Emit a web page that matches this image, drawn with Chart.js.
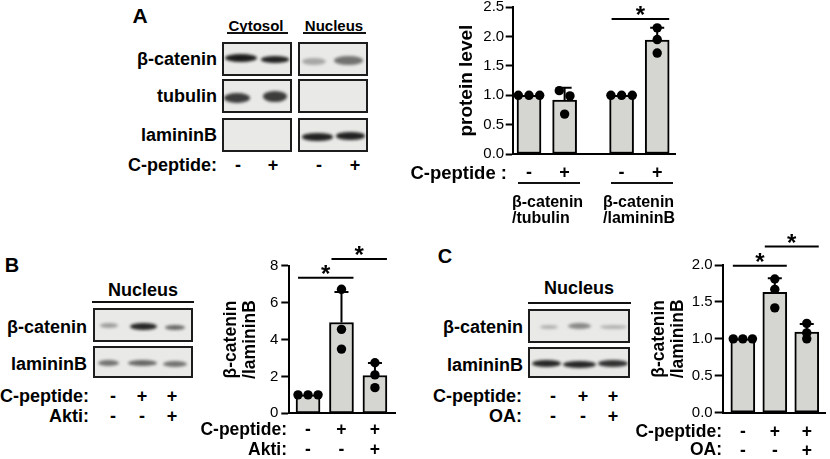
<!DOCTYPE html>
<html>
<head>
<meta charset="utf-8">
<script src="https://cdn.jsdelivr.net/npm/chart.js@4.4.1/dist/chart.umd.min.js"></script>
<style>
  html, body { margin: 0; padding: 0; background: #fff; }
  body { width: 830px; height: 459px; position: relative; overflow: hidden;
         font-family: 'Liberation Sans', Arial, sans-serif; color: #000; }
  .t { position: absolute; font-weight: bold; white-space: nowrap; line-height: 1; }
  .box { position: absolute; border: 2px solid #1c1c1c; background: #e9e9e7; box-sizing: border-box; }
  .band { position: absolute; border-radius: 50%; filter: blur(1.8px); background: #111; }
  .ul { position: absolute; height: 2px; background: #111; }
  canvas { position: absolute; }
</style>
</head>
<body>
<canvas id="chartA"></canvas>
<canvas id="chartB"></canvas>
<canvas id="chartC"></canvas>
<script>
// ---- panel A : protein level ----
const treatA = ['-', '+', '-', '+'];
const groupsA = [['β-catenin', '/tubulin'], ['β-catenin', '/lamininB']];
const meanA = [1.0, 0.92, 1.0, 1.94];
const sdA = [0, 0.21, 0, 0.21];
const dotsA = [[1.0, 1.0, 1.0], [1.08, 0.99, 0.68], [1.0, 1.0, 1.0], [2.15, 1.95, 1.72]];
const sigA = [[2, 3, 2.3]];
const yTicksA = [0, 0.5, 1.0, 1.5, 2.0, 2.5];

// ---- panel B : Akti ----
const treatB = [['-', '-'], ['+', '-'], ['+', '+']];
const meanB = [1.0, 4.92, 2.05];
const sdB = [0, 1.65, 0.68];
const dotsB = [[1.0, 1.0, 1.0], [6.72, 4.55, 3.48], [2.74, 2.08, 1.39]];
const sigB = [[0, 1, 7.35], [1, 2, 8.36]];
const yTicksB = [0, 2, 4, 6, 8];

// ---- panel C : OA ----
const treatC = [['-', '-'], ['+', '-'], ['+', '+']];
const meanC = [1.0, 1.63, 1.09];
const sdC = [0, 0.19, 0.11];
const dotsC = [[1.0, 1.0, 1.0], [1.81, 1.67, 1.42], [1.21, 1.08, 1.0]];
const sigC = [[0, 1, 1.99], [1, 2, 2.25]];
const yTicksC = [0, 0.5, 1.0, 1.5, 2.0];

// blot lane labels
const rowsA = ['β-catenin', 'tubulin', 'lamininB'];
const rowsBC = ['β-catenin', 'lamininB'];
const lanesA = ['-', '+', '-', '+'];
const ratioTitle = ['β-catenin', '/lamininB'];

Chart.defaults.font.family = "'Liberation Sans', Arial, sans-serif";
Chart.defaults.color = '#000';

// ---------- html helpers (blots and labels) ----------
function txt(s, x, y, size, align) {
  const d = document.createElement('div');
  d.className = 't';
  d.textContent = s;
  d.style.fontSize = size + 'px';
  d.style.left = x + 'px';
  d.style.top = y + 'px';
  const tx = align === 'r' ? '-100%' : align === 'c' ? '-50%' : '0';
  d.style.transform = 'translate(' + tx + ', -50%)';
  document.body.appendChild(d);
}
function rule(x1, x2, y) {
  const d = document.createElement('div');
  d.className = 'ul';
  d.style.left = x1 + 'px'; d.style.width = (x2 - x1) + 'px'; d.style.top = (y - 1) + 'px';
  document.body.appendChild(d);
}
function box(x1, y1, x2, y2) {
  const d = document.createElement('div');
  d.className = 'box';
  d.style.left = x1 + 'px'; d.style.top = y1 + 'px';
  d.style.width = (x2 - x1) + 'px'; d.style.height = (y2 - y1) + 'px';
  document.body.appendChild(d);
}
function band(x1, x2, yc, h, alpha) {
  const d = document.createElement('div');
  d.className = 'band';
  d.style.left = x1 + 'px'; d.style.width = (x2 - x1) + 'px';
  d.style.top = (yc - h / 2) + 'px'; d.style.height = h + 'px';
  d.style.opacity = alpha;
  document.body.appendChild(d);
}

// panel A blots
txt('A', 140, 15, 21, 'c');
txt('Cytosol', 256, 24.5, 15, 'c'); rule(227, 288, 33);
txt('Nucleus', 334, 24.5, 15, 'c'); rule(303, 366, 33);
[[42, 76], [79, 113], [118, 152]].forEach(([a, b], i) => {
  box(222, a, 292, b); box(298, a, 368, b);
  txt(rowsA[i], 217, (a + b) / 2, 18, 'r');
});
txt('C-peptide:', 217, 165, 18, 'r');
[238, 273, 319, 355].forEach((x, i) => txt(lanesA[i], x, 165, 18, 'c'));
band(225, 257, 58, 8, 0.95); band(261, 289, 59.5, 6.5, 0.92);
band(224, 250, 98, 10, 0.8); band(263, 287, 96.5, 11, 0.8);
band(302, 326, 61, 7, 0.3); band(334, 363, 60, 9, 0.55);
band(302, 333, 137, 7.5, 0.92); band(336, 365, 136, 7.5, 0.92);

// panel A chart side labels
txt('C-peptide :', 507, 173, 18.5, 'r');
rule(518, 580, 183); rule(611, 673, 183);
txt(groupsA[0][0], 512, 202, 16, 'l'); txt(groupsA[0][1], 512, 218, 16, 'l');
txt(groupsA[1][0], 603, 202, 16, 'l'); txt(groupsA[1][1], 603, 218, 16, 'l');

// panel B blots
txt('B', 12, 265, 20, 'c');
txt('Nucleus', 143, 290, 18, 'c'); rule(92, 194, 302);
box(93, 308, 193, 342); box(93, 346, 193, 378);
txt(rowsBC[0], 87, 327, 18, 'r'); txt(rowsBC[1], 87, 364, 18, 'r');
txt('C-peptide:', 89, 396, 18, 'r'); txt('Akti:', 89, 416, 18, 'r');
[113, 142, 172].forEach((x, i) => { txt(treatB[i][0], x, 396, 18, 'c'); txt(treatB[i][1], x, 416, 18, 'c'); });
band(100, 118, 325, 5, 0.35); band(130, 157, 326.5, 7, 0.9); band(165, 185, 327.5, 5, 0.6);
band(98, 119, 363, 6, 0.55); band(128, 157, 363, 6, 0.6); band(163, 187, 363.5, 6, 0.55);
txt('C-peptide:', 287, 430, 17.5, 'r'); txt('Akti:', 287, 450, 17.5, 'r');

// panel C blots
txt('C', 445, 256, 20, 'c');
txt('Nucleus', 579, 288, 18, 'c'); rule(528, 631, 303);
box(528, 309, 630, 343); box(528, 347, 630, 378);
txt(rowsBC[0], 523, 327, 18, 'r'); txt(rowsBC[1], 523, 365, 18, 'r');
txt('C-peptide:', 522, 396, 18, 'r'); txt('OA:', 522, 416, 18, 'r');
[553, 583, 613].forEach((x, i) => { txt(treatC[i][0], x, 396, 18, 'c'); txt(treatC[i][1], x, 416, 18, 'c'); });
band(540, 558, 327, 4, 0.25); band(568, 591, 326, 6, 0.45); band(600, 627, 327, 4, 0.25);
band(532, 561, 363.5, 7, 0.9); band(563, 596, 364, 7, 0.9); band(598, 628, 363, 7, 0.85);
txt('C-peptide:', 722, 432, 17.5, 'r'); txt('OA:', 722, 450, 17.5, 'r');

// ---------- chart plugins ----------
const errorBars = {
  id: 'errorBars',
  afterDatasetDraw(chart, args, opts) {
    if (args.meta.type !== 'bar') return;
    const ctx = chart.ctx, y = chart.scales.y;
    const vals = chart.data.datasets[args.index].data;
    ctx.save();
    ctx.strokeStyle = '#000';
    ctx.lineWidth = 2;
    args.meta.data.forEach((bar, i) => {
      if (!opts.sd[i]) return;
      const top = y.getPixelForValue(vals[i].y + opts.sd[i]);
      ctx.beginPath();
      ctx.moveTo(bar.x, bar.y);
      ctx.lineTo(bar.x, top);
      ctx.moveTo(bar.x - 7, top);
      ctx.lineTo(bar.x + 7, top);
      ctx.stroke();
    });
    ctx.restore();
  }
};

const sigMarks = {
  id: 'sigMarks',
  afterDraw(chart, args, opts) {
    const ctx = chart.ctx, y = chart.scales.y;
    const bars = chart.getDatasetMeta(1).data;
    ctx.save();
    ctx.strokeStyle = '#000';
    ctx.fillStyle = '#000';
    ctx.lineWidth = 2;
    ctx.font = "bold 24px 'Liberation Sans', Arial";
    ctx.textAlign = 'center';
    opts.pairs.forEach(([a, b, v]) => {
      const x1 = bars[a].x - 10, x2 = bars[b].x + 12;
      const py = y.getPixelForValue(v);
      ctx.beginPath();
      ctx.moveTo(x1, py);
      ctx.lineTo(x2, py);
      ctx.stroke();
      ctx.fillText('*', (x1 + x2) / 2, py + 4);
    });
    ctx.restore();
  }
};

// spread dots that would overlap, like a scatter of replicates
function spread(vals, tol) {
  const idx = vals.map((v, i) => i).sort((a, b) => vals[b] - vals[a]);
  const off = vals.map(() => 0);
  let cl = [idx[0]];
  const flush = () => cl.forEach((j, k) => { off[j] = (k - (cl.length - 1) / 2) * 0.3; });
  for (let n = 1; n < idx.length; n++) {
    if (vals[cl[cl.length - 1]] - vals[idx[n]] < tol) cl.push(idx[n]);
    else { flush(); cl = [idx[n]]; }
  }
  flush();
  return off;
}

function place(id, L, T, W, H) {
  const c = document.getElementById(id);
  c.width = W; c.height = H;
  c.style.left = L + 'px'; c.style.top = T + 'px';
  return c;
}

function barChart(canvas, o) {
  const xs = o.xs;
  const bars = o.means.map((v, i) => ({ x: xs[i], y: v }));
  const dots = [];
  o.dots.forEach((vals, i) => {
    spread(vals, o.tol).forEach((dx, k) => dots.push({ x: xs[i] + dx, y: vals[k] }));
  });
  return new Chart(canvas, {
    type: 'bar',
    data: {
      datasets: [
        { type: 'scatter', data: dots, pointRadius: 4.7, backgroundColor: '#000', borderWidth: 0, order: 0 },
        { data: bars, backgroundColor: '#d5d5d1', borderColor: '#000', borderWidth: 2,
          borderSkipped: false, barThickness: 24, order: 1 }
      ]
    },
    options: {
      responsive: false,
      animation: false,
      layout: { padding: { top: o.pt, right: o.pr, left: 0, bottom: 0 } },
      plugins: {
        legend: { display: false },
        tooltip: { enabled: false },
        errorBars: { sd: o.sd },
        sigMarks: { pairs: o.sig }
      },
      scales: {
        x: {
          type: 'linear', min: o.xmin, max: o.xmax, offset: false,
          afterBuildTicks: s => { s.ticks = xs.map(v => ({ value: v })); },
          afterFit: s => { s.height = o.xH; s.paddingLeft = 0; s.paddingRight = 0; },
          grid: { display: false, drawTicks: false },
          border: { color: '#000', width: 2 },
          ticks: { callback: (v, i) => o.cats[i], autoSkip: false, maxRotation: 0,
                   padding: o.xPad, color: '#000',
                   font: { size: o.xFont, weight: 'bold', lineHeight: o.xLH } }
        },
        y: {
          min: 0, max: o.yTicks[o.yTicks.length - 1],
          afterBuildTicks: s => { s.ticks = o.yTicks.map(v => ({ value: v })); },
          afterFit: s => { s.width = o.yW; s.paddingTop = 0; s.paddingBottom = 0; },
          grid: { drawOnChartArea: false, tickLength: o.tl, tickColor: '#000', tickWidth: 2 },
          border: { color: '#000', width: 2 },
          ticks: { callback: o.fmt, padding: o.tp, color: '#000', font: { size: 15 } },
          title: { display: true, text: o.title, color: '#000',
                   font: { size: o.tFont, weight: 'bold', lineHeight: o.tLH },
                   padding: { top: o.tPad, bottom: 0 } }
        }
      }
    },
    plugins: [errorBars, sigMarks]
  });
}

// A: two groups with a gap between them
const gapA = 0.6;
barChart(place('chartA', 450, 0, 235, 190), {
  xs: treatA.map((_, i) => i + (i >= 2 ? gapA : 0)), xmin: -0.458, xmax: 4.1,
  cats: treatA, means: meanA, sd: sdA, dots: dotsA, sig: sigA, tol: 0.11,
  yTicks: yTicksA, fmt: v => v.toFixed(1),
  pt: 7.3, pr: 10, yW: 62.7, xH: 36, xPad: 8.2, xFont: 18, xLH: 1.2, tl: 7, tp: 1.5,
  title: 'protein level', tFont: 19, tLH: 1.2, tPad: 5.6
});

barChart(place('chartB', 216, 230, 185, 230), {
  xs: [0, 1, 2], xmin: -0.56, xmax: 2.6,
  cats: treatB, means: meanB, sd: sdB, dots: dotsB, sig: sigB, tol: 0.3,
  yTicks: yTicksB, fmt: v => String(v),
  pt: 35.7, pr: 6, yW: 73.3, xH: 46.7, xPad: 6.7, xFont: 17.5, xLH: 20 / 17.5, tl: 8, tp: 3,
  title: ratioTitle, tFont: 17.5, tLH: 1.1, tPad: 5.4
});

barChart(place('chartC', 645, 225, 185, 235), {
  xs: [0, 1, 2], xmin: -0.63, xmax: 2.58,
  cats: treatC, means: meanC, sd: sdC, dots: dotsC, sig: sigC, tol: 0.07,
  yTicks: yTicksC, fmt: v => v.toFixed(1),
  pt: 40, pr: 2, yW: 77.7, xH: 47.3, xPad: 9.8, xFont: 17.5, xLH: 19 / 17.5, tl: 8, tp: 2,
  title: ratioTitle, tFont: 17.5, tLH: 1.1, tPad: 4.4
});
</script>
</body>
</html>
